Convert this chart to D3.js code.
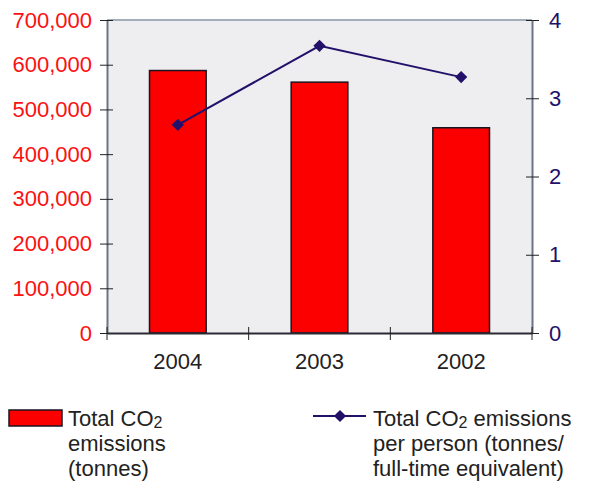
<!DOCTYPE html>
<html>
<head>
<meta charset="utf-8">
<script src="https://cdn.jsdelivr.net/npm/d3@7"></script>
<style>
  body { margin: 0; background: #fff; }
  svg { display: block; font-family: "Liberation Sans", Arial, sans-serif; }
</style>
</head>
<body>
<div class="chart"></div>
<script>
const years = ["2004", "2003", "2002"];
const totalEmissions = [587000, 561000, 459000];
const perPerson = [2.66, 3.67, 3.27];
const leftTicks = [0, 100000, 200000, 300000, 400000, 500000, 600000, 700000];
const rightTicks = [0, 1, 2, 3, 4];

const w = 589;
const h = 483;
const margin = { top: 20, right: 57, bottom: 150, left: 107 };
const innerW = w - margin.left - margin.right;
const innerH = h - margin.top - margin.bottom;

const svg = d3.select(".chart").append("svg").attr("width", w).attr("height", h);
const g = svg.append("g").attr("transform", `translate(${margin.left},${margin.top})`);

const x = d3.scaleBand().domain(years).range([0, innerW]);
const yLeft = d3.scaleLinear().domain([0, 700000]).range([innerH, 0]);
const yRight = d3.scaleLinear().domain([0, 4]).range([innerH, 0]);

// plot background
g.append("rect")
  .attr("width", innerW)
  .attr("height", innerH)
  .attr("fill", "#eeeef0");
g.append("line")
  .attr("x1", 0).attr("x2", innerW)
  .attr("stroke", "#a3adbb").attr("stroke-width", 2);

// bars
const barW = x.bandwidth() * 0.4;
g.selectAll(".bar")
  .data(years)
  .join("rect")
  .attr("class", "bar")
  .attr("x", (d) => x(d) + (x.bandwidth() - barW) / 2)
  .attr("y", (d, i) => yLeft(totalEmissions[i]))
  .attr("width", barW)
  .attr("height", (d, i) => innerH - yLeft(totalEmissions[i]))
  .attr("fill", "#fc0000")
  .attr("stroke", "#1a1420")
  .attr("stroke-width", 1.5);

// axes
const leftAxis = d3.axisLeft(yLeft)
  .tickValues(leftTicks)
  .tickFormat(d3.format(","))
  .tickSizeInner(7)
  .tickSizeOuter(0)
  .tickPadding(8);
const gl = g.append("g").call(leftAxis);
gl.select(".domain").attr("stroke", "#6a7484").attr("stroke-width", 2);
gl.selectAll(".tick line").attr("x2", 6).attr("x1", -7).attr("stroke", "#222");
gl.selectAll(".tick text").attr("fill", "#fc1010").attr("font-size", 22);

const rightAxis = d3.axisRight(yRight)
  .tickValues(rightTicks)
  .tickFormat(d3.format("d"))
  .tickSizeInner(7)
  .tickSizeOuter(0)
  .tickPadding(10);
const gr = g.append("g").attr("transform", `translate(${innerW},0)`).call(rightAxis);
gr.select(".domain").attr("stroke", "#6a7484").attr("stroke-width", 2);
gr.selectAll(".tick line").attr("x1", -6).attr("x2", 7).attr("stroke", "#222");
gr.selectAll(".tick text").attr("fill", "#22106a").attr("font-size", 22);

const bottomAxis = d3.axisBottom(x).tickSize(0).tickPadding(20);
const gb = g.append("g").attr("transform", `translate(0,${innerH})`).call(bottomAxis);
gb.select(".domain").attr("stroke", "#2a2a35").attr("stroke-width", 2);
gb.selectAll(".tick text").attr("fill", "#222").attr("font-size", 22);
gb.selectAll(".sep")
  .data(d3.range(years.length + 1))
  .join("line")
  .attr("class", "sep")
  .attr("x1", (d) => d * x.step())
  .attr("x2", (d) => d * x.step())
  .attr("y1", -6)
  .attr("y2", 7)
  .attr("stroke", "#222");

// per-person line
const lineColor = "#22106a";
const line = d3.line()
  .x((d, i) => x(years[i]) + x.bandwidth() / 2)
  .y((d) => yRight(d));
g.append("path")
  .datum(perPerson)
  .attr("d", line)
  .attr("fill", "none")
  .attr("stroke", lineColor)
  .attr("stroke-width", 2);
const diamond = d3.symbol().type(d3.symbolDiamond2).size(95);
g.selectAll(".pt")
  .data(perPerson)
  .join("path")
  .attr("class", "pt")
  .attr("d", diamond)
  .attr("transform", (d, i) => `translate(${x(years[i]) + x.bandwidth() / 2},${yRight(d)})`)
  .attr("fill", lineColor);

// legend
const lg = svg.append("g").attr("font-size", 22).attr("fill", "#222");
lg.append("rect")
  .attr("x", 9).attr("y", 410).attr("width", 53).attr("height", 16)
  .attr("fill", "#fc0000").attr("stroke", "#1a1420").attr("stroke-width", 1.5);

function co2Lines(sel, xPos, lines) {
  lines.forEach((ln, i) => {
    const t = sel.append("text").attr("x", xPos).attr("y", 426 + i * 25);
    if (Array.isArray(ln)) {
      t.append("tspan").text(ln[0]);
      t.append("tspan").attr("font-size", 16).attr("dy", 2).text("2");
      t.append("tspan").attr("dy", -2).text(ln[1]);
    } else {
      t.text(ln);
    }
  });
}
co2Lines(lg, 68, [["Total CO", ""], "emissions", "(tonnes)"]);

lg.append("line")
  .attr("x1", 313).attr("x2", 366).attr("y1", 416).attr("y2", 416)
  .attr("stroke", lineColor).attr("stroke-width", 2);
lg.append("path")
  .attr("d", diamond)
  .attr("transform", "translate(340,416)")
  .attr("fill", lineColor);
co2Lines(lg, 373, [["Total CO", " emissions"], "per person (tonnes/", "full-time equivalent)"]);
</script>
</body>
</html>
